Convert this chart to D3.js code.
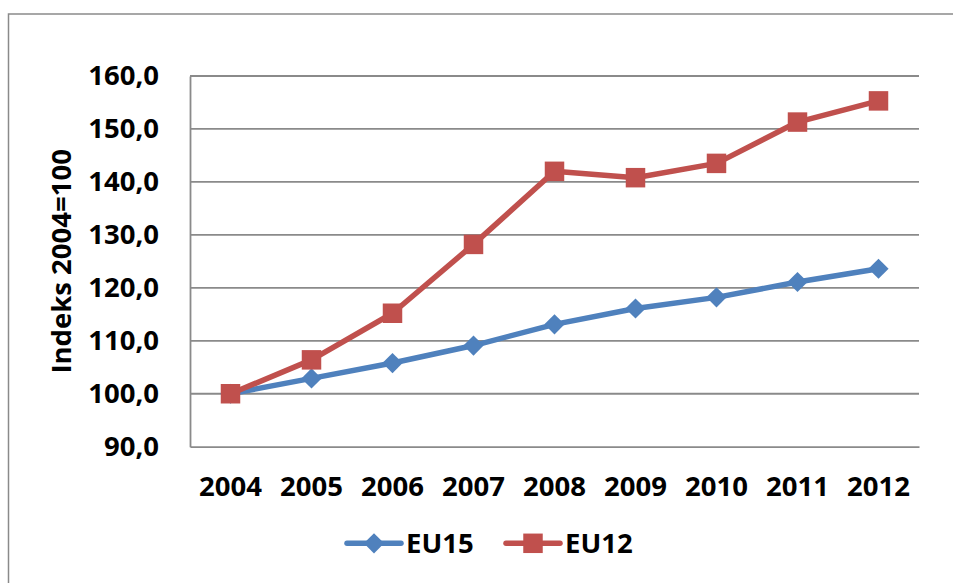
<!DOCTYPE html>
<html>
<head>
<meta charset="utf-8">
<script src="https://cdn.jsdelivr.net/npm/d3@7"></script>
<style>
  html, body { margin: 0; padding: 0; background: #fff; }
  svg { display: block; }
  text { font-family: "Open Sans", sans-serif; font-weight: bold; fill: #000; }
</style>
</head>
<body>
<svg id="chart" width="953" height="583"></svg>
<script>
// index chart, 2004 = 100
const years = ["2004", "2005", "2006", "2007", "2008", "2009", "2010", "2011", "2012"];
const eu15 = [100.0, 102.9, 105.8, 109.1, 113.1, 116.1, 118.2, 121.1, 123.6];
const eu12 = [100.0, 106.4, 115.2, 128.2, 142.0, 140.8, 143.5, 151.3, 155.3];
const yTicks = [90, 100, 110, 120, 130, 140, 150, 160];
const yTitle = "Indeks 2004=100";

const svg = d3.select("#chart");
const width = 953, height = 583;
const plot = { left: 190, right: 919, top: 76, bottom: 446.7 };
const blue = "#4f81bd", red = "#c0504d", grid = "#8a8a8a";

// outer chart frame (runs off the right/bottom edge)
svg.append("rect")
  .attr("x", 8.5).attr("y", 14)
  .attr("width", width + 20).attr("height", height + 20)
  .attr("fill", "none").attr("stroke", grid).attr("stroke-width", 1.5);

const x = d3.scaleBand().domain(years).range([plot.left, plot.right]);
const y = d3.scaleLinear().domain([90, 160]).range([plot.bottom, plot.top]);
const cx = d => x(d) + x.bandwidth() / 2;

// horizontal gridlines
svg.append("g").selectAll("line").data(yTicks.filter(t => t > 90)).join("line")
  .attr("x1", plot.left).attr("x2", plot.right)
  .attr("y1", d => y(d)).attr("y2", d => y(d))
  .attr("stroke", grid).attr("stroke-width", 1.8);

// axes
const yAxis = d3.axisLeft(y).tickValues(yTicks).tickSize(0).tickPadding(31)
  .tickFormat(d => d3.format(".1f")(d).replace(".", ","));
const gy = svg.append("g").attr("transform", `translate(${plot.left},0)`).call(yAxis);
gy.select(".domain").attr("stroke", grid).attr("stroke-width", 1.8);
gy.selectAll("text").attr("font-size", 27.5).attr("font-family", "Open Sans").attr("font-weight", "bold").attr("fill", "#000");

const xAxis = d3.axisBottom(x).tickSize(0).tickPadding(30);
const gx = svg.append("g").attr("transform", `translate(0,${plot.bottom})`).call(xAxis);
gx.select(".domain").attr("stroke", grid).attr("stroke-width", 1.8);
gx.selectAll("text").attr("font-size", 27.5).attr("font-family", "Open Sans").attr("font-weight", "bold").attr("fill", "#000");

// y axis title
svg.append("text")
  .attr("transform", `translate(71,${(plot.top + plot.bottom) / 2}) rotate(-90)`)
  .attr("text-anchor", "middle")
  .attr("font-size", 27.5)
  .text(yTitle);

const line = d3.line().x((d, i) => cx(years[i])).y(d => y(d));
const diamond = d3.symbol().type(d3.symbolDiamond2).size(260);
const square = d3.symbol().type(d3.symbolSquare).size(380);

function drawSeries(vals, color, sym) {
  svg.append("path").datum(vals)
    .attr("d", line).attr("fill", "none")
    .attr("stroke", color).attr("stroke-width", 5.5)
    .attr("stroke-linejoin", "round");
  svg.append("g").selectAll("path").data(vals).join("path")
    .attr("transform", (d, i) => `translate(${cx(years[i])},${y(d)})`)
    .attr("d", sym()).attr("fill", color);
}
drawSeries(eu15, blue, diamond);
drawSeries(eu12, red, square);

// legend
const legend = [
  { name: "EU15", color: blue, sym: diamond, x: 347 },
  { name: "EU12", color: red, sym: square, x: 506 }
];
const ly = 543.3;
const lg = svg.append("g").selectAll("g").data(legend).join("g")
  .attr("transform", d => `translate(${d.x},${ly})`);
lg.append("line").attr("x1", 0).attr("x2", 54)
  .attr("stroke", d => d.color).attr("stroke-width", 5.5).attr("stroke-linecap", "round");
lg.append("path").attr("transform", "translate(27,0)")
  .attr("d", d => d.sym()).attr("fill", d => d.color);
lg.append("text").attr("x", 59).attr("dy", "0.35em")
  .attr("font-size", 27.5).text(d => d.name);
</script>
</body>
</html>
